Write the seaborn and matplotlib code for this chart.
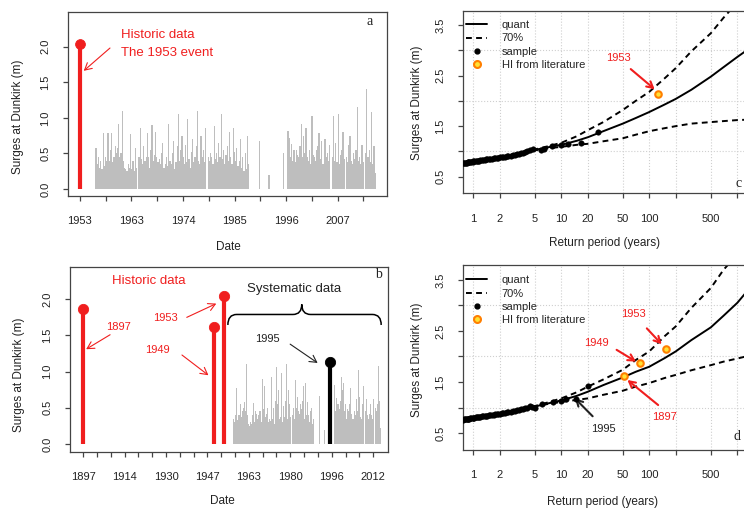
import numpy as np
import pandas as pd
import seaborn as sns
import matplotlib.pyplot as plt
from matplotlib.path import Path
from matplotlib.patches import PathPatch
from matplotlib.lines import Line2D

# -----------------------------
# Data
# -----------------------------

# systematic surges at Dunkirk, four values per year (m)
surge_years = list(range(1956, 2015))
surges = [
    [0.00, 0.57, 0.35, 0.45], [0.30, 0.40, 0.28, 0.78], [0.33, 0.45, 0.40, 0.78],
    [0.40, 0.55, 0.78, 0.38], [0.45, 0.60, 0.50, 0.58], [0.92, 0.45, 0.50, 1.10],
    [0.40, 0.30, 0.28, 0.25], [0.35, 0.30, 0.77, 0.28], [0.40, 0.25, 0.57, 0.30],
    [0.00, 0.45, 0.86, 0.42], [0.35, 0.60, 0.40, 0.45], [0.78, 0.45, 0.30, 0.55],
    [0.90, 0.40, 0.48, 0.80], [0.45, 0.38, 0.42, 0.35], [0.50, 0.65, 0.30, 0.35],
    [0.45, 0.32, 0.92, 0.40], [0.35, 0.50, 0.68, 0.28], [0.38, 0.60, 1.06, 0.40],
    [0.55, 0.75, 0.45, 0.35], [0.62, 0.38, 0.98, 0.42], [0.30, 0.52, 0.70, 0.38],
    [0.45, 0.60, 1.10, 0.40], [0.35, 0.75, 0.45, 0.55], [0.38, 0.85, 0.00, 0.45],
    [0.40, 0.50, 0.45, 0.35], [0.88, 0.42, 0.50, 0.38], [0.65, 0.45, 1.05, 0.42],
    [0.55, 0.35, 0.48, 0.60], [0.40, 0.80, 0.45, 0.35], [0.85, 0.52, 0.40, 0.58],
    [0.32, 0.40, 0.70, 0.30], [0.45, 0.25, 0.50, 0.28], [0.75, 0.35, 0.00, 0.00],
    [0.00, 0.00, 0.00, 0.00], [0.00, 0.00, 0.67, 0.00], [0.00, 0.00, 0.00, 0.00],
    [0.00, 0.00, 0.20, 0.00], [0.00, 0.00, 0.00, 0.00], [0.00, 0.00, 0.00, 0.00],
    [0.00, 0.00, 0.50, 0.00], [0.00, 0.00, 0.82, 0.72], [0.45, 0.63, 0.40, 0.55],
    [0.38, 0.55, 0.48, 0.45], [0.60, 0.92, 0.45, 0.75], [0.50, 0.85, 0.45, 0.40],
    [0.55, 0.35, 1.03, 0.48], [0.45, 0.40, 0.55, 0.60], [0.78, 0.42, 0.68, 0.35],
    [0.35, 0.70, 0.45, 0.50], [0.40, 0.62, 0.00, 0.45], [1.02, 0.40, 0.65, 0.38],
    [1.05, 0.35, 0.48, 0.55], [0.80, 0.42, 0.00, 0.45], [0.38, 0.62, 0.75, 0.40],
    [0.35, 0.50, 0.42, 0.55], [1.15, 0.40, 0.45, 0.35], [0.62, 0.38, 0.00, 0.50],
    [1.40, 0.45, 0.55, 0.38], [1.08, 0.35, 0.60, 0.22],
]

# historic events
hist_years_a = [1953]
hist_surge_a = [2.04]
hist_years_b = [1897, 1949, 1953]
hist_surge_b = [1.87, 1.61, 2.04]
year_1995 = [1995]
surge_1995 = [1.13]

a_tick_labels = ["1953", "1963", "1974", "1985", "1996", "2007"]
b_tick_labels = ["1897", "1914", "1930", "1947", "1963", "1980", "1996", "2012"]

# return level curves
return_period = [0.76, 1, 1.5, 2, 3, 5, 7, 10, 15, 20, 30, 50, 70, 100, 150,
                 200, 300, 500, 700, 1000, 1400]
quant_c = [0.765, 0.80, 0.85, 0.88, 0.95, 1.03, 1.08, 1.13, 1.21, 1.28, 1.40,
           1.55, 1.66, 1.78, 1.93, 2.04, 2.22, 2.48, 2.67, 2.87, 3.05]
upper_c = [0.765, 0.80, 0.85, 0.88, 0.95, 1.04, 1.10, 1.17, 1.30, 1.42, 1.58,
           1.82, 2.00, 2.18, 2.45, 2.65, 2.98, 3.34, 3.65, 3.95, 4.30]
lower_c = [0.765, 0.80, 0.85, 0.88, 0.95, 1.02, 1.06, 1.09, 1.13, 1.15, 1.20,
           1.26, 1.33, 1.40, 1.46, 1.50, 1.55, 1.58, 1.60, 1.62, 1.63]
quant_d = [0.76, 0.79, 0.84, 0.87, 0.94, 1.02, 1.08, 1.14, 1.23, 1.31, 1.44,
           1.59, 1.70, 1.80, 1.97, 2.10, 2.32, 2.57, 2.80, 3.05, 3.35]
upper_d = [0.76, 0.79, 0.84, 0.87, 0.94, 1.03, 1.10, 1.18, 1.30, 1.41, 1.55,
           1.74, 1.93, 2.10, 2.40, 2.59, 2.95, 3.34, 3.70, 4.00, 4.40]
lower_d = [0.76, 0.79, 0.84, 0.87, 0.94, 1.02, 1.07, 1.11, 1.15, 1.18, 1.25,
           1.33, 1.41, 1.48, 1.58, 1.64, 1.73, 1.83, 1.90, 1.96, 2.02]

# empirical sample (plotting positions)
dense_T = [0.76, 0.78, 0.8, 0.82, 0.84, 0.86, 0.88, 0.9, 0.92, 0.95,
           0.98, 1.0, 1.03, 1.06, 1.1, 1.13, 1.17, 1.2, 1.25, 1.3,
           1.35, 1.4, 1.45, 1.5, 1.56, 1.62, 1.7, 1.77, 1.85, 1.93,
           2.0, 2.1, 2.2, 2.3, 2.4, 2.5, 2.65, 2.8, 2.95, 3.1,
           3.3, 3.5, 3.7, 3.9, 4.1, 4.4]
dense_v = [0.765, 0.768, 0.771, 0.774, 0.777, 0.78, 0.783, 0.786, 0.789, 0.792,
           0.796, 0.80, 0.803, 0.806, 0.81, 0.814, 0.818, 0.822, 0.826, 0.83,
           0.835, 0.84, 0.845, 0.85, 0.853, 0.857, 0.862, 0.866, 0.872, 0.877,
           0.882, 0.888, 0.893, 0.898, 0.905, 0.91, 0.918, 0.926, 0.935, 0.945,
           0.955, 0.965, 0.975, 0.99, 1.0, 1.03]
tail_T_c = [4.8, 5.9, 6.4, 7.9, 9.9, 12, 16.7, 26.3]
tail_v_c = [1.04, 1.03, 1.05, 1.11, 1.12, 1.15, 1.16, 1.39]
tail_T_d = [4.6, 5.0, 6.1, 8.1, 10, 11.2, 14.5, 20.3]
tail_v_d = [1.02, 1.00, 1.07, 1.11, 1.12, 1.16, 1.17, 1.43]

# historic information from literature
hi_T_c = [126]
hi_v_c = [2.13]
hi_T_d = [52, 78, 155]
hi_v_d = [1.61, 1.87, 2.14]

# -----------------------------
# Tables
# -----------------------------
bars = pd.DataFrame(
    [(y + 0.25 * q + 0.125, v) for y, row in zip(surge_years, surges)
     for q, v in enumerate(row) if v > 0],
    columns=["year", "surge"])

curves_c = pd.DataFrame({"T": return_period, "quant": quant_c,
                         "upper": upper_c, "lower": lower_c})
curves_d = pd.DataFrame({"T": return_period, "quant": quant_d,
                         "upper": upper_d, "lower": lower_d})
sample_c = pd.DataFrame({"T": dense_T + tail_T_c, "v": dense_v + tail_v_c})
sample_d = pd.DataFrame({"T": dense_T + tail_T_d, "v": dense_v + tail_v_d})

# -----------------------------
# Style
# -----------------------------
sns.set_theme(style="ticks")
plt.rcParams['font.family'] = ['Liberation Sans', 'DejaVu Sans']
plt.rcParams['axes.edgecolor'] = '#444444'
plt.rcParams['axes.linewidth'] = 0.9
plt.rcParams['xtick.color'] = '#444444'
plt.rcParams['ytick.color'] = '#444444'
plt.rcParams['xtick.labelcolor'] = '#222222'
plt.rcParams['ytick.labelcolor'] = '#222222'

RED = '#f01e1e'
GRAY = '#bebebe'
TXT = '#222222'
DASH = (0, (3, 2.2))

fig = plt.figure(figsize=(7.44, 5.09), dpi=100)
W, H = 744, 509


def place(x0, y0, x1, y1):
    return fig.add_axes([x0 / W, 1 - y1 / H, (x1 - x0) / W, (y1 - y0) / H])


ax_a = place(68, 12, 386.7, 196)
ax_b = place(70, 266.7, 388, 451.7)
ax_c = place(462.7, 11, 750, 193.3)
ax_d = place(462.7, 265, 750, 450)


def arrow(ax, tail, head, color, lw=0.8, size=9):
    ax.annotate("", xy=head, xytext=tail,
                arrowprops=dict(arrowstyle="->,head_length=0.55,head_width=0.3",
                                color=color, lw=lw, shrinkA=0, shrinkB=0,
                                mutation_scale=size))


def style_axes(ax, xlab):
    ax.tick_params(axis='both', direction='out', length=3.6, width=0.9,
                   labelsize=8)
    ax.tick_params(axis='x', pad=11)
    ax.tick_params(axis='y', pad=9)
    ax.set_ylabel("Surges at Dunkirk (m)", fontsize=8.5, color=TXT)
    ax.set_xlabel(xlab, fontsize=8.5, color=TXT)
    for s in ax.spines.values():
        s.set_visible(True)


# -----------------------------
# Panel a
# -----------------------------
ax = ax_a
ax.bar(bars["year"], bars["surge"], width=0.25, color=GRAY, linewidth=0)
ax.vlines(hist_years_a, 0, hist_surge_a, color=RED, lw=3)
sns.scatterplot(x=hist_years_a, y=hist_surge_a, color=RED, s=50,
                edgecolor=RED, ax=ax, zorder=5)
ax.set_xlim(1950.5, 2017.3)
ax.set_ylim(-0.098, 2.486)
ax.set_xticks(1953 + 5.4 * np.arange(12))
ax.set_xticklabels([a_tick_labels[i // 2] if i % 2 == 0 else "" for i in range(12)])
ax.set_yticks([0, 0.5, 1.0, 1.5, 2.0])
ax.set_yticklabels(["0.0", "0.5", "1.0", "1.5", "2.0"], rotation=90, va='center')
style_axes(ax, "Date")
ax.yaxis.set_label_coords(-0.138, 0.43)
ax.xaxis.set_label_coords(0.502, -0.245)
ax.text(1961.7, 2.16, "Historic data", color=RED, fontsize=9.5, va='center')
ax.text(1961.7, 1.91, "The 1953 event", color=RED, fontsize=9.5, va='center')
arrow(ax, (1959.3, 1.98), (1953.8, 1.66), RED)
ax.text(2013.7, 2.35, "a", family='Liberation Serif', fontsize=10, ha='center',
        va='center', color=TXT)

# -----------------------------
# Panel b
# -----------------------------
ax = ax_b
ax.bar(bars["year"], bars["surge"], width=0.25, color=GRAY, linewidth=0)
ax.vlines(hist_years_b, 0, hist_surge_b, color=RED, lw=3)
sns.scatterplot(x=hist_years_b, y=hist_surge_b, color=RED, s=55,
                edgecolor=RED, ax=ax, zorder=5)
ax.vlines(year_1995, 0, surge_1995, color='black', lw=3)
sns.scatterplot(x=year_1995, y=surge_1995, color='black', s=55,
                edgecolor='black', ax=ax, zorder=5)
ax.set_xlim(1891.8, 2017.9)
ax.set_ylim(-0.106, 2.45)
ax.set_xticks(np.linspace(1897, 2012, 22))
ax.set_xticklabels([b_tick_labels[i // 3] if i % 3 == 0 else "" for i in range(22)])
ax.set_yticks([0, 0.5, 1.0, 1.5, 2.0])
ax.set_yticklabels(["0.0", "0.5", "1.0", "1.5", "2.0"], rotation=90, va='center')
style_axes(ax, "Date")
ax.yaxis.set_label_coords(-0.142, 0.415)
ax.xaxis.set_label_coords(0.478, -0.234)
ax.text(1922.9, 2.25, "Historic data", color=RED, fontsize=9.5, ha='center', va='center')
ax.text(1911.0, 1.62, "1897", color=RED, fontsize=8, ha='center', va='center')
arrow(ax, (1907.7, 1.51), (1898.2, 1.31), RED)
ax.text(1926.5, 1.30, "1949", color=RED, fontsize=8, ha='center', va='center')
arrow(ax, (1936.2, 1.23), (1946.7, 0.95), RED)
ax.text(1929.7, 1.74, "1953", color=RED, fontsize=8, ha='center', va='center')
arrow(ax, (1938.1, 1.75), (1949.8, 1.94), RED)
ax.text(1970.1, 1.45, "1995", color=TXT, fontsize=8, ha='center', va='center')
arrow(ax, (1979.1, 1.38), (1990.0, 1.12), TXT)
ax.text(1980.7, 2.14, "Systematic data", color=TXT, fontsize=9.5, ha='center',
        va='center')
ax.text(2014.0, 2.34, "b", family='Liberation Serif', fontsize=10, ha='center',
        va='center', color=TXT)

# curly brace over the systematic record
x0, x1, xm = 1954.4, 2015.2, 1983.7
y_end, y_line, y_tip, rx = 1.645, 1.79, 1.93, 3.5
verts = [(x0, y_end), (x0, y_line), (x0 + rx, y_line),
         (xm - rx, y_line), (xm, y_line), (xm, y_tip),
         (xm, y_line), (xm + rx, y_line),
         (x1 - rx, y_line), (x1, y_line), (x1, y_end)]
codes = [Path.MOVETO, Path.CURVE3, Path.CURVE3,
         Path.LINETO, Path.CURVE3, Path.CURVE3,
         Path.CURVE3, Path.CURVE3,
         Path.LINETO, Path.CURVE3, Path.CURVE3]
ax.add_patch(PathPatch(Path(verts, codes), fill=False, lw=1.1, edgecolor='black'))

# -----------------------------
# Panels c and d
# -----------------------------
x_ticks = [1, 2, 5, 10, 20, 50, 100, 200, 500, 1000]
x_tick_labels = ["1", "2", "5", "10", "20", "50", "100", "", "500", ""]
y_ticks = [0.5, 1.0, 1.5, 2.0, 2.5, 3.0, 3.5]
y_tick_labels = ["0.5", "", "1.5", "", "2.5", "", "3.5"]

for ax, curves, sample, hi_T, hi_v, leg_y in [
        (ax_c, curves_c, sample_c, hi_T_c, hi_v_c, 0.95),
        (ax_d, curves_d, sample_d, hi_T_d, hi_v_d, 0.945)]:
    ax.set_xscale('log')
    for x in x_ticks:
        ax.axvline(x, color='#cfcfcf', lw=0.8, ls=':', zorder=0)
    for y in [1, 2, 3]:
        ax.axhline(y, color='#cfcfcf', lw=0.8, ls=':', zorder=0)
    sns.lineplot(data=curves, x="T", y="quant", color='black', lw=1.4,
                 estimator=None, sort=False, ax=ax)
    for col in ["upper", "lower"]:
        sns.lineplot(data=curves, x="T", y=col, color='black', lw=1.4,
                     estimator=None, sort=False, ax=ax, linestyle=DASH)
    sns.scatterplot(data=sample, x="T", y="v", color='black', s=16,
                    edgecolor='black', linewidth=0.3, ax=ax, zorder=4)
    sns.scatterplot(x=hi_T, y=hi_v, color='#ffe135', s=22, edgecolor='#ff7f00',
                    linewidth=1.5, ax=ax, zorder=6)
    ax.set_xlim(0.758, 1393)
    ax.set_xticks(x_ticks)
    ax.set_xticklabels(x_tick_labels)
    ax.minorticks_off()
    ax.set_yticks(y_ticks)
    ax.set_yticklabels(y_tick_labels, rotation=90, va='center')
    style_axes(ax, "Return period (years)")
    handles = [Line2D([], [], color='black', lw=1.4),
               Line2D([], [], color='black', lw=1.4, ls=DASH),
               Line2D([], [], color='black', marker='o', ls='', ms=3.5),
               Line2D([], [], marker='o', ls='', ms=5, mfc='#ffe135',
                      mec='#ff7f00', mew=1.5)]
    ax.legend(handles, ["quant", "70%", "sample", "HI from literature"],
              loc='upper left', bbox_to_anchor=(0.012, leg_y), frameon=False,
              fontsize=8, handlelength=1.9, handletextpad=1.3, labelspacing=0.3,
              borderpad=0, borderaxespad=0)

ax_c.set_ylim(0.17, 3.78)
ax_d.set_ylim(0.17, 3.79)
ax_c.yaxis.set_label_coords(-0.138, 0.494)
ax_d.yaxis.set_label_coords(-0.138, 0.486)
ax_c.xaxis.set_label_coords(0.495, -0.242)
ax_d.xaxis.set_label_coords(0.488, -0.249)

# annotations c
ax_c.text(44.4, 2.84, "1953", color=RED, fontsize=8, ha='center', va='center')
arrow(ax_c, (61.5, 2.63), (115, 2.23), RED, lw=1.5, size=8)
ax_c.text(1026, 0.37, "c", family='Liberation Serif', fontsize=10, ha='center',
          va='center', color=TXT)

# annotations d
ax_d.text(65.7, 2.83, "1953", color=RED, fontsize=8, ha='center', va='center')
arrow(ax_d, (93.7, 2.55), (138, 2.24), RED, lw=1.5, size=8)
ax_d.text(25.3, 2.26, "1949", color=RED, fontsize=8, ha='center', va='center')
arrow(ax_d, (42.5, 2.13), (70.6, 1.90), RED, lw=1.5, size=8)
ax_d.text(150, 0.82, "1897", color=RED, fontsize=8, ha='center', va='center')
arrow(ax_d, (126, 1.05), (56.4, 1.54), RED, lw=1.5, size=8)
ax_d.text(30, 0.58, "1995", color=TXT, fontsize=8, ha='center', va='center')
arrow(ax_d, (22.7, 0.83), (14.3, 1.18), TXT, lw=1.5, size=8)
ax_d.text(1000, 0.43, "d", family='Liberation Serif', fontsize=10, ha='center',
          va='center', color=TXT)

plt.savefig('out.png', dpi=100)
